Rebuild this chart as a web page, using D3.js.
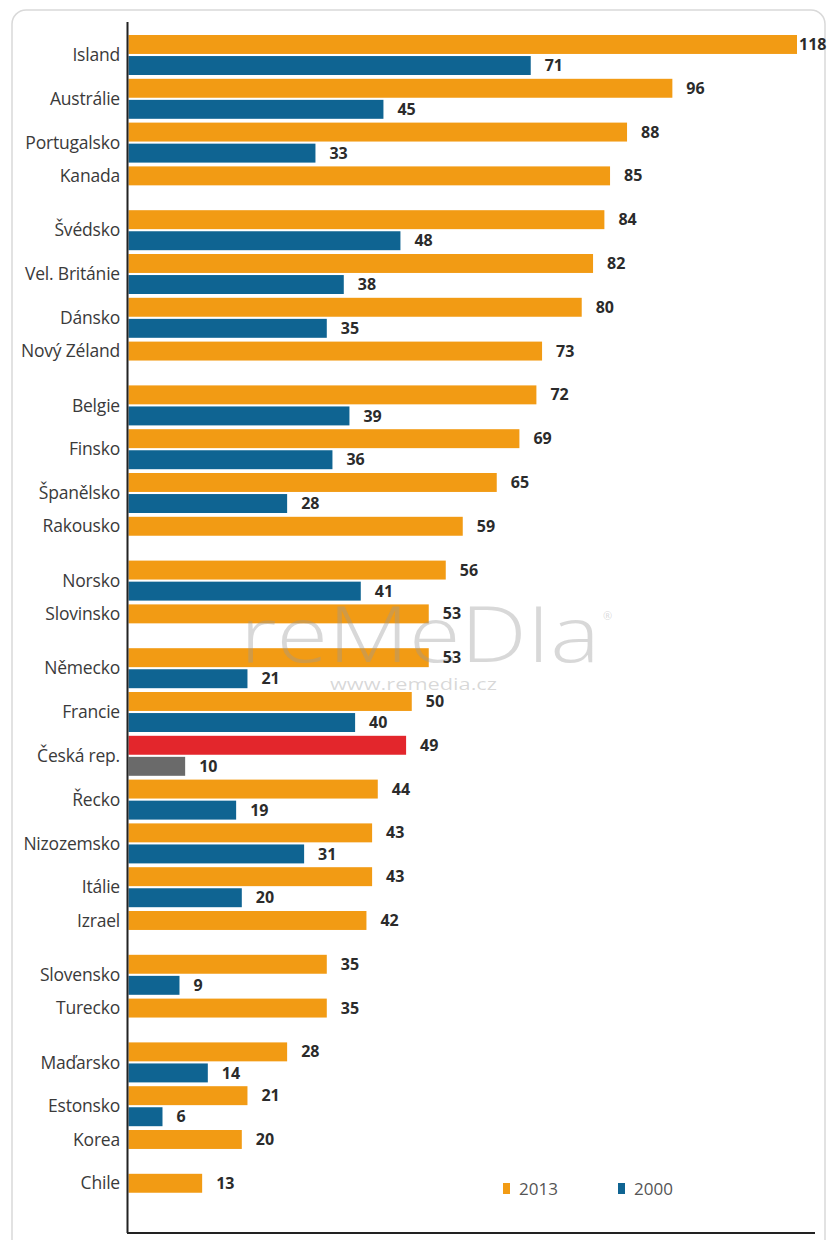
<!DOCTYPE html>
<html>
<head>
<meta charset="utf-8">
<script src="https://cdn.jsdelivr.net/npm/d3@7"></script>
<style>
  html, body { margin: 0; padding: 0; background: #fff; }
  svg { display: block; }
</style>
</head>
<body>
<script>
const countries = ["Island","Austrálie","Portugalsko","Kanada","Švédsko","Vel. Británie","Dánsko","Nový Zéland","Belgie","Finsko","Španělsko","Rakousko","Norsko","Slovinsko","Německo","Francie","Česká rep.","Řecko","Nizozemsko","Itálie","Izrael","Slovensko","Turecko","Maďarsko","Estonsko","Korea","Chile"];
const values2013 = [118,96,88,85,84,82,80,73,72,69,65,59,56,53,53,50,49,44,43,43,42,35,35,28,21,20,13];
const values2000 = [71,45,33,null,48,38,35,null,39,36,28,null,41,null,21,40,10,19,31,20,null,9,null,14,6,null,null];
const seriesNames = ["2013","2000"];
const highlight = "Česká rep.";

const W = 827, H = 1240;
const colors = {"2013": "#F29B14", "2000": "#0F6492"};
const hiColors = {"2013": "#E3262C", "2000": "#6A6A6A"};

const svg = d3.select("body").append("svg").attr("width", W).attr("height", H);

// frame
svg.append("rect").attr("x", 12).attr("y", 10).attr("width", 813).attr("height", 1260)
  .attr("rx", 14).attr("fill", "none").attr("stroke", "#d9d9d9").attr("stroke-width", 1.5);

const x = d3.scaleLinear().domain([0, 118]).range([128.5, 797]);
const y = d3.scaleBand().domain(countries).range([35, 35 + countries.length * 43.8]).padding(0);
const sub = d3.scaleBand().domain(seriesNames).range([0, 40]).paddingInner(0.1);

const data = [];
countries.forEach((c, i) => {
  data.push({country: c, series: "2013", value: values2013[i]});
  if (values2000[i] != null) data.push({country: c, series: "2000", value: values2000[i]});
});

const fontLabel = "'Open Sans', sans-serif";

// watermark (behind labels, over bars)
function drawWatermark() {
  const wm = svg.append("g").attr("pointer-events", "none");
  wm.append("text").attr("x", 240).attr("y", 662)
    .attr("font-family", "'Open Sans', sans-serif").attr("font-weight", 300)
    .attr("font-size", 78).attr("fill", "#999").attr("fill-opacity", 0.38)
    .attr("textLength", 360).attr("lengthAdjust", "spacingAndGlyphs")
    .text("reMeDIa");
  wm.append("text").attr("x", 603).attr("y", 620)
    .attr("font-family", "'Open Sans', sans-serif").attr("font-size", 11)
    .attr("fill", "#999").attr("fill-opacity", 0.38).text("®");
  wm.append("text").attr("x", 330).attr("y", 690)
    .attr("font-family", "'Open Sans', sans-serif").attr("font-size", 17)
    .attr("fill", "#999").attr("fill-opacity", 0.38)
    .attr("textLength", 167).attr("lengthAdjust", "spacingAndGlyphs")
    .text("www.remedia.cz");
}

// bars
svg.append("g").selectAll("rect").data(data).join("rect")
  .attr("x", x(0))
  .attr("y", d => y(d.country) + sub(d.series))
  .attr("width", d => x(d.value) - x(0))
  .attr("height", sub.bandwidth())
  .attr("fill", d => d.country === highlight ? hiColors[d.series] : colors[d.series]);

drawWatermark();

// value labels
svg.append("g").selectAll("text").data(data).join("text")
  .attr("x", d => Math.min(x(d.value) + 14, 799))
  .attr("y", d => y(d.country) + sub(d.series) + sub.bandwidth() / 2)
  .attr("dy", "0.35em")
  .attr("font-family", fontLabel)
  .attr("font-weight", "bold")
  .attr("font-size", 16)
  .attr("fill", "#2b2b2b")
  .text(d => d.value);

// category labels
svg.append("g").selectAll("text").data(countries).join("text")
  .attr("x", 120)
  .attr("y", (c, i) => y(c) + (values2000[i] != null ? 20 : sub.bandwidth() / 2))
  .attr("dy", "0.35em")
  .attr("text-anchor", "end")
  .attr("font-family", fontLabel)
  .attr("font-size", 17.5)
  .attr("letter-spacing", -0.2)
  .attr("fill", "#3a3a3a")
  .text(c => c);

// axes lines
svg.append("line").attr("x1", 127.5).attr("x2", 127.5).attr("y1", 22).attr("y2", 1233)
  .attr("stroke", "#222").attr("stroke-width", 2);
svg.append("line").attr("x1", 127).attr("x2", 815).attr("y1", 1233).attr("y2", 1233)
  .attr("stroke", "#222").attr("stroke-width", 2);

// legend
const legendX = {"2013": 503, "2000": 618};
const lg = svg.append("g").selectAll("g").data(seriesNames).join("g")
  .attr("transform", s => `translate(${legendX[s]},1183)`);
lg.append("rect").attr("width", 7).attr("height", 11).attr("fill", s => colors[s]);
lg.append("text").attr("x", 16).attr("y", 6).attr("dy", "0.35em")
  .attr("font-family", fontLabel).attr("font-size", 17).attr("fill", "#555")
  .text(s => s);
</script>
</body>
</html>
